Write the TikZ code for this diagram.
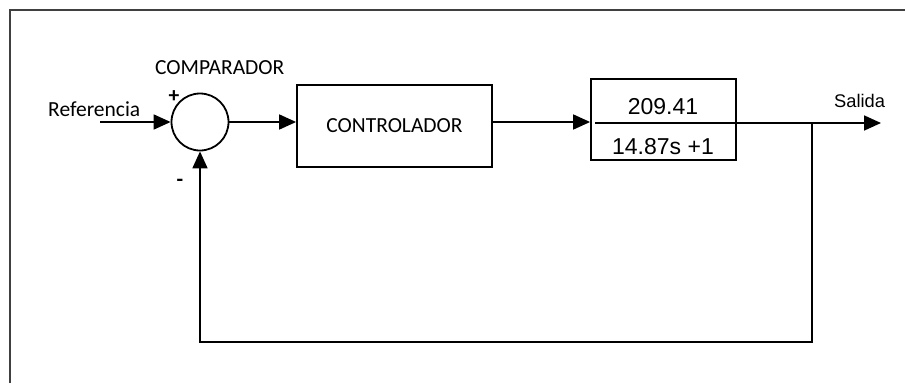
\documentclass[tikz,border=0pt]{standalone}
\usepackage{fontspec}
\setmainfont{Carlito}
\newfontfamily\arialfont{Liberation Sans}
\usetikzlibrary{arrows.meta}
\tikzset{
  bloque/.style={draw,line width=1.8pt,inner sep=0pt},
  flecha/.style={line width=1.8pt,-{Triangle[length=17pt,width=15pt]}},
  linea/.style={line width=1.8pt}
}
\begin{document}
\begin{tikzpicture}[x=1pt,y=-1pt]
\fontsize{21.5}{24}\selectfont
\useasboundingbox (0,0) rectangle (905,383);
\draw[line width=2pt,color=darkgray] (10,383) -- (10,10) -- (905,10);
% bloques
\node[bloque,circle,minimum size=57pt] (comp) at (200,122) {};
\node[bloque,minimum width=195pt,minimum height=82pt] (ctrl) at (394.5,126) {CONTROLADOR};
\node[bloque,minimum width=145pt,minimum height=81pt] (planta) at (663.5,119.5) {};
\node[anchor=base] (num) at (663,114) {\arialfont\fontsize{23}{26}\selectfont 209.41};
\node[anchor=base] (den) at (663,154) {\arialfont\fontsize{23}{26}\selectfont 14.87s +1};
% textos
\node[anchor=base west,inner sep=0pt] (ref) at (48,116) {Referencia};
\node[anchor=base west,inner sep=0pt] (ncomp) at (155,74) {COMPARADOR};
\node (mas) at (174,97) {\textbf{+}};
\node (menos) at (180,183) {\textbf{-}};
\node[anchor=base west,inner sep=0pt] (sal) at (834,107) {\arialfont\fontsize{18.3}{20}\selectfont Salida};
% conexiones
\coordinate (entrada) at (100,122);
\coordinate (frac) at (595,123);
\coordinate (salida) at (881,123);
\coordinate (rama) at (812,123);
\coordinate (abajo) at (812,342);
\draw[flecha] (entrada) -- (comp.west);
\draw[flecha] (comp.east) -- (comp.east -| ctrl.west);
\draw[flecha] (ctrl.east |- comp.east) -- (comp.east -| planta.west);
\draw[flecha] (frac) -- (salida);
\draw[flecha] (rama) -- (abajo) -- (abajo -| comp.south) -- (comp.south);
\end{tikzpicture}
\end{document}
